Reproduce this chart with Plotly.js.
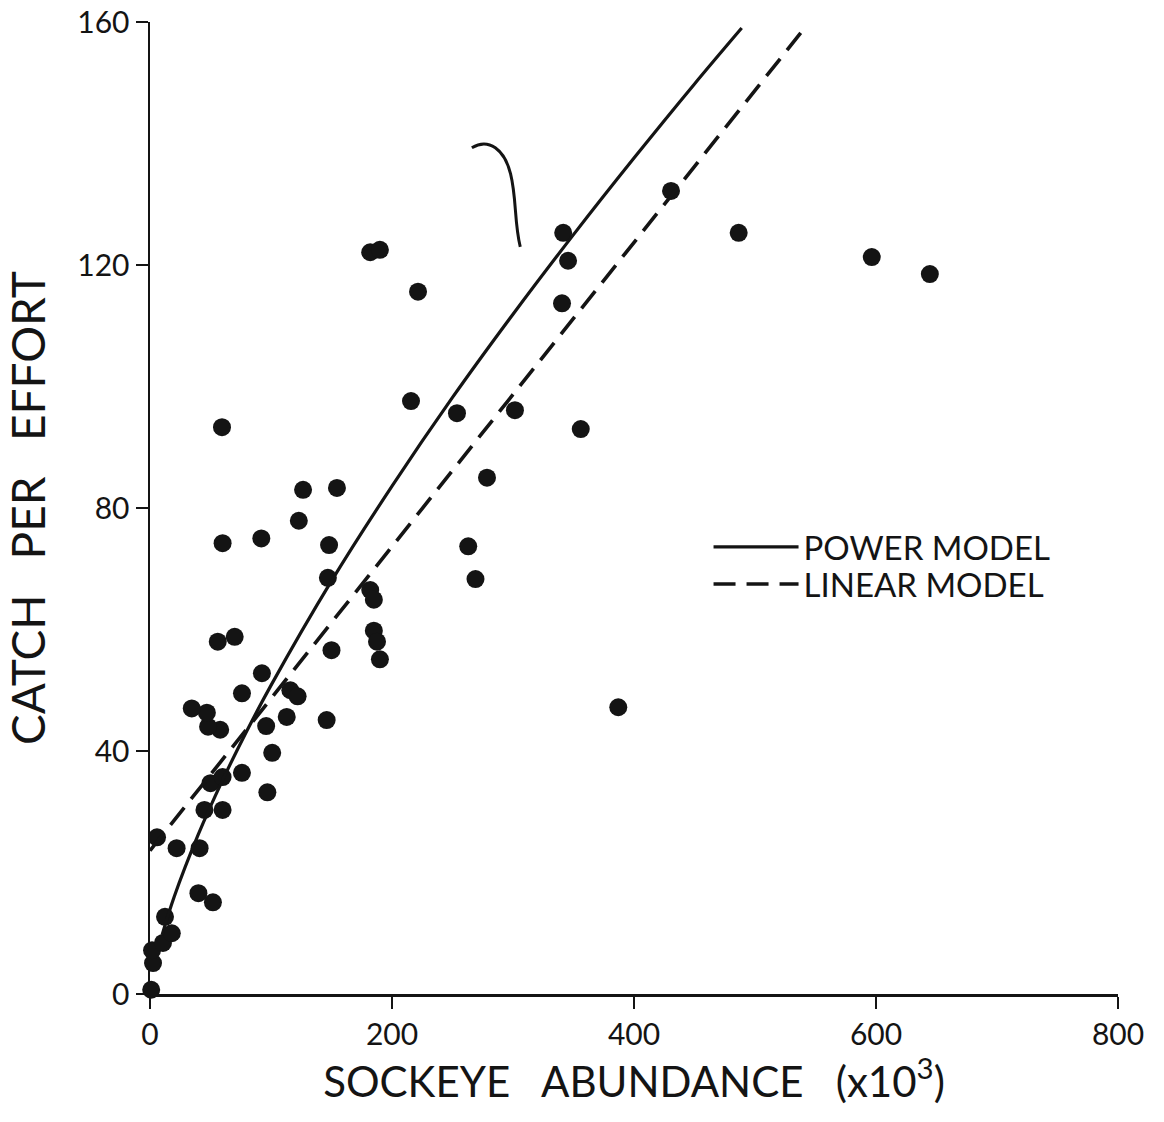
<!DOCTYPE html>
<html>
<head>
<meta charset="utf-8">
<script src="https://cdn.plot.ly/plotly-3.0.1.min.js"></script>
<style>
  html, body { margin: 0; padding: 0; background: #fff; }
  #chart { width: 1164px; height: 1122px; }
</style>
</head>
<body>
<div id="chart"></div>
<script>
// Sockeye abundance (thousands) vs. catch per unit effort, one dot per observation
const abundance = [
  1, 2.5, 1.7, 10.7, 18, 12.4, 5.8, 22, 41, 40, 52, 45, 60, 50, 97, 60, 76, 101,
  96, 146, 113, 58, 48, 47, 34.5, 76, 116, 122, 92.5, 150, 56, 70, 147, 60, 92,
  148, 123, 126.5, 154.5, 59.5, 182, 185, 185, 187.6, 190, 182, 190, 215.7,
  221.5, 253.7, 263, 269, 278.5, 301.6, 340.5, 341.5, 345.5, 356, 387, 430.6,
  486.5, 596.5, 644.5
];
const catchPerEffort = [
  0.7, 5.1, 7.2, 8.4, 10, 12.7, 25.8, 24, 24, 16.6, 15.1, 30.3, 30.3, 34.7, 33.2,
  35.7, 36.4, 39.7, 44.1, 45.1, 45.6, 43.5, 44, 46.3, 47, 49.5, 50, 49, 52.8,
  56.6, 58, 58.8, 68.5, 74.2, 75, 73.9, 77.9, 83, 83.3, 93.3, 66.5, 64.9, 59.8,
  58, 55.1, 122.1, 122.5, 97.6, 115.6, 95.6, 73.7, 68.3, 85, 96.1, 113.7, 125.3,
  120.7, 93, 47.2, 132.2, 125.3, 121.3, 118.5
];

// Fitted power-model curve, read along its length
const powerX = [10, 20, 40, 60, 80, 100, 150, 200, 250, 300, 350, 400, 450, 489];
const powerY = [9.7, 16.0, 26.3, 35.2, 43.3, 50.8, 68.0, 83.6, 98.2, 111.9, 125.0, 137.6, 149.8, 159];

// Fitted linear-model line, end points
const linearX = [0, 541];
const linearY = [23.6, 159];

// Axis ticks
const xTicks = [0, 200, 400, 600, 800];
const yTicks = [0, 40, 80, 120, 160];

const seriesNames = ['POWER\u00a0MODEL', 'LINEAR\u00a0MODEL'];

const ink = '#141414';
const font = 'Lato, "DejaVu Sans", sans-serif';

const traces = [
  {
    x: abundance, y: catchPerEffort,
    type: 'scatter', mode: 'markers',
    marker: { size: 18, color: ink, line: { width: 0 } },
    showlegend: false, cliponaxis: false, hoverinfo: 'x+y'
  },
  {
    x: powerX, y: powerY,
    type: 'scatter', mode: 'lines', name: seriesNames[0], legend: 'legend',
    line: { color: ink, width: 3.2, shape: 'spline' }
  },
  {
    x: linearX, y: linearY,
    type: 'scatter', mode: 'lines', name: seriesNames[1], legend: 'legend2',
    line: { color: ink, width: 3.6, dash: '22px,11px' }
  }
];

const legendStyle = {
  x: 0.577, xanchor: 'left', yanchor: 'middle',
  bgcolor: 'rgba(0,0,0,0)', borderwidth: 0,
  font: { family: font, size: 33, color: ink },
  itemwidth: 85
};

const layout = {
  width: 1164, height: 1122,
  margin: { l: 150, r: 46, t: 22, b: 128 },
  paper_bgcolor: '#ffffff', plot_bgcolor: '#ffffff',
  font: { family: font, color: ink, size: 30 },
  showlegend: true,
  legend: Object.assign({ y: 0.4599 }, legendStyle),
  legend2: Object.assign({ y: 0.4218 }, legendStyle),
  xaxis: {
    range: [0, 800], tickvals: xTicks, ticktext: xTicks.map(String),
    showgrid: false, zeroline: false, showline: true, linecolor: ink, linewidth: 2.5,
    ticks: 'outside', ticklen: 12, tickwidth: 2.5, tickcolor: ink,
    tickfont: { size: 30, family: font, color: ink },
    title: { text: '\u00a0\u00a0\u00a0SOCKEYE\u00a0\u00a0\u00a0ABUNDANCE\u00a0\u00a0\u00a0(x10<sup>3</sup>)', font: { size: 42, family: font, color: ink }, standoff: 12 },
    fixedrange: true
  },
  yaxis: {
    range: [0, 160], tickvals: yTicks, ticktext: yTicks.map(String),
    showgrid: false, zeroline: false, showline: true, linecolor: ink, linewidth: 2.5,
    ticks: 'outside', ticklen: 12, tickwidth: 2.5, tickcolor: ink,
    tickfont: { size: 30, family: font, color: ink },
    title: { text: 'CATCH\u00a0\u00a0\u00a0PER\u00a0\u00a0\u00a0EFFORT', font: { size: 46, family: font, color: ink }, standoff: 36 },
    fixedrange: true
  },
  shapes: [
    {
      // pen-drawn pointer above the power curve
      type: 'path', xref: 'x', yref: 'y',
      path: 'M 266,139.3 C 280,141 293,139 298,135 C 303,131 301,127 306,123',
      line: { color: ink, width: 3 }
    }
  ]
};

Plotly.newPlot('chart', traces, layout, { displayModeBar: false, staticPlot: true });
</script>
</body>
</html>
